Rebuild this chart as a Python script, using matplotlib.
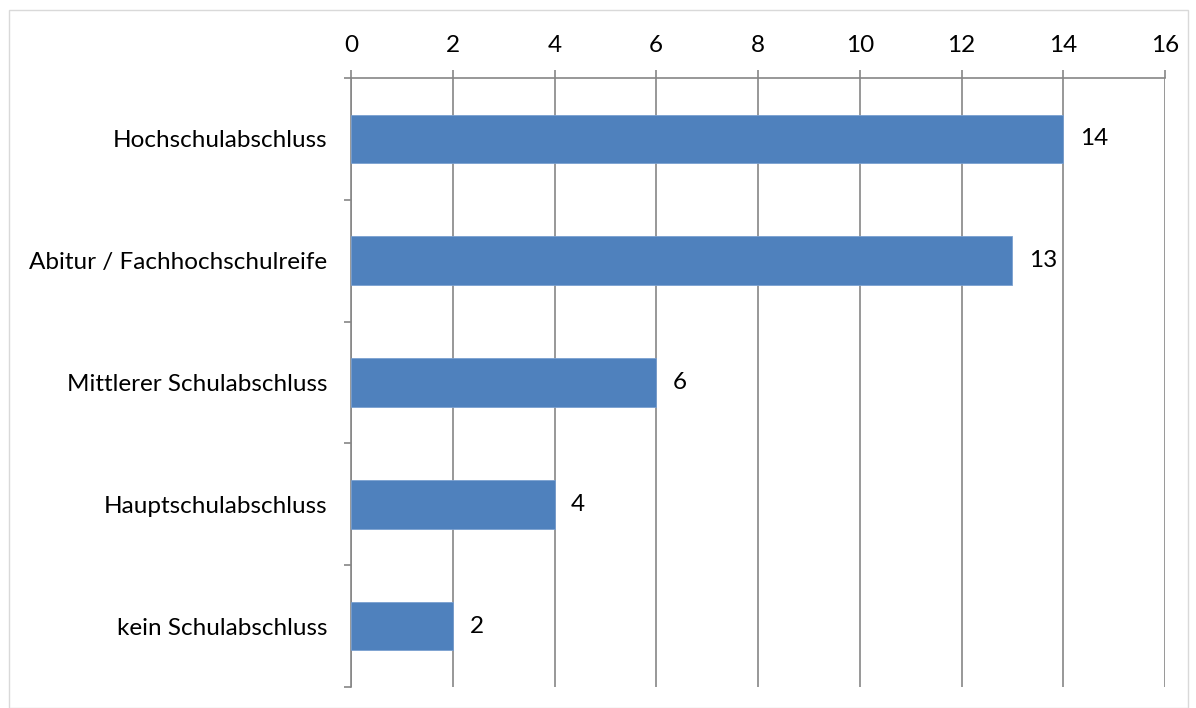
import matplotlib
matplotlib.use("Agg")
import matplotlib.pyplot as plt
from matplotlib.patches import Rectangle
from matplotlib.ticker import FixedLocator

categories = ["kein Schulabschluss", "Hauptschulabschluss", "Mittlerer Schulabschluss",
              "Abitur / Fachhochschulreife", "Hochschulabschluss"]
values = [2, 4, 6, 13, 14]
x_ticks = [0, 2, 4, 6, 8, 10, 12, 14, 16]

plt.rcParams['font.family'] = ['Lato', 'DejaVu Sans']
grid_c = '#868686'
bar_c = '#4F81BD'
fs = 17.5

fig = plt.figure(figsize=(11.96, 7.08), dpi=100)
ax = fig.add_axes([351/1196, 1-687/708, (1165-351)/1196, (687-78)/708])

ypos = list(range(len(categories)))
bars = ax.barh(ypos, values, height=0.4, color=bar_c, edgecolor='#7aa0d0', linewidth=0.6, zorder=3)
ax.bar_label(bars, labels=[str(v) for v in values], padding=12, fontsize=fs, color='black')

ax.set_xlim(0, 16)
ax.set_ylim(-0.5, len(categories) - 0.5)
ax.xaxis.tick_top()
ax.set_xticks(x_ticks)
ax.set_xticklabels([str(t) for t in x_ticks])
ax.tick_params(axis='x', which='major', length=6, width=1.2, color=grid_c, labelsize=fs, pad=10)
ax.set_yticks(ypos)
ax.set_yticklabels(categories)
ax.tick_params(axis='y', which='major', length=0, labelsize=fs, pad=17)
ax.yaxis.set_minor_locator(FixedLocator([i - 0.5 for i in range(len(categories) + 1)]))
ax.tick_params(axis='y', which='minor', length=5, width=1.2, color=grid_c)

ax.grid(axis='x', color=grid_c, linewidth=1.2, zorder=0)
for s in ['right', 'bottom']:
    ax.spines[s].set_visible(False)
for s in ['top', 'left']:
    ax.spines[s].set_color(grid_c)
    ax.spines[s].set_linewidth(1.2)

fig.patches.append(Rectangle((9/1196, 0.5/708), (1188-9)/1196, (698-0.5)/708,
                             transform=fig.transFigure, fill=False, edgecolor='#d9d9d9', linewidth=1))

fig.savefig('out.png', dpi=100)
